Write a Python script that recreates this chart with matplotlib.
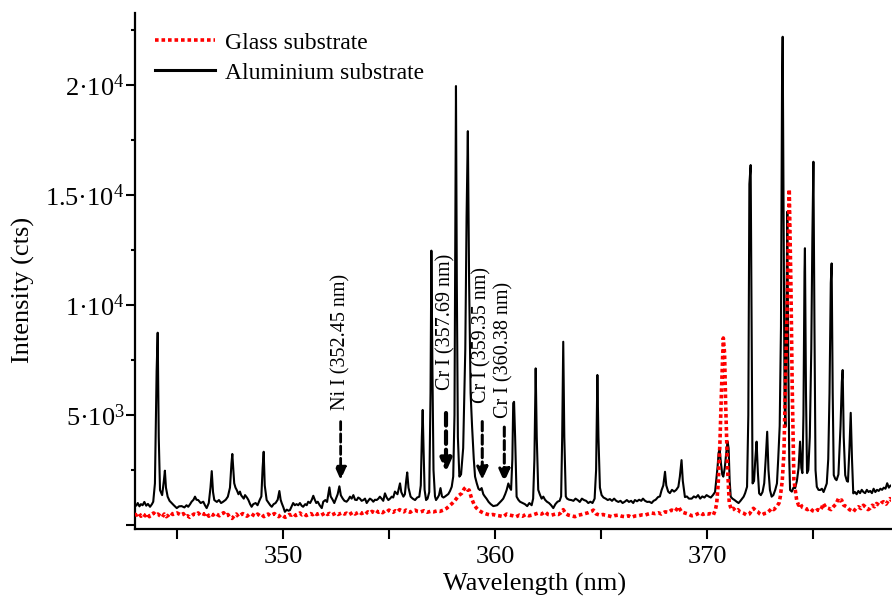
#!/usr/bin/env python3

import numpy as np
import matplotlib
matplotlib.use("Agg")
import matplotlib.pyplot as plt
from matplotlib.ticker import MultipleLocator, FuncFormatter

# Aluminium substrate spectrum (wavelength nm, intensity cts)
alu_wl = [
    343.00, 343.08, 343.15, 343.23, 343.30, 343.38, 343.46, 343.55, 343.63, 343.73,
    343.82, 343.88, 343.96, 344.04, 344.09, 344.14, 344.20, 344.30, 344.38, 344.43,
    344.48, 344.56, 344.65, 344.75, 344.85, 344.99, 345.10, 345.22, 345.35, 345.45,
    345.53, 345.62, 345.69, 345.78, 345.85, 345.92, 346.00, 346.12, 346.24, 346.32,
    346.40, 346.50, 346.58, 346.64, 346.70, 346.76, 346.88, 346.98, 347.08, 347.18,
    347.30, 347.40, 347.50, 347.57, 347.61, 347.66, 347.70, 347.76, 347.82, 347.90,
    347.97, 348.03, 348.08, 348.15, 348.21, 348.30, 348.37, 348.45, 348.52, 348.60,
    348.71, 348.80, 348.90, 348.98, 349.04, 349.09, 349.14, 349.23, 349.33, 349.40,
    349.47, 349.56, 349.65, 349.75, 349.83, 349.89, 349.94, 350.02, 350.09, 350.18,
    350.26, 350.33, 350.41, 350.48, 350.56, 350.64, 350.72, 350.80, 350.88, 350.95,
    351.05, 351.12, 351.19, 351.28, 351.36, 351.43, 351.50, 351.57, 351.64, 351.73,
    351.83, 351.90, 352.00, 352.08, 352.14, 352.19, 352.25, 352.35, 352.42, 352.50,
    352.58, 352.66, 352.73, 352.82, 352.90, 353.00, 353.08, 353.16, 353.24, 353.32,
    353.40, 353.48, 353.55, 353.63, 353.71, 353.79, 353.87, 353.95, 354.02, 354.10,
    354.18, 354.26, 354.34, 354.42, 354.50, 354.57, 354.65, 354.73, 354.81, 354.89,
    354.97, 355.05, 355.13, 355.20, 355.28, 355.40, 355.47, 355.52, 355.58, 355.68,
    355.75, 355.81, 355.86, 355.92, 356.02, 356.12, 356.23, 356.33, 356.43, 356.50,
    356.55, 356.59, 356.63, 356.68, 356.75, 356.82, 356.90, 356.96, 357.00, 357.05,
    357.10, 357.17, 357.22, 357.30, 357.36, 357.43, 357.50, 357.57, 357.65, 357.72,
    357.80, 357.88, 357.96, 358.03, 358.09, 358.13, 358.16, 358.20, 358.25, 358.32,
    358.40, 358.50, 358.60, 358.66, 358.72, 358.78, 358.85, 358.92, 359.00, 359.06,
    359.14, 359.22, 359.29, 359.37, 359.45, 359.52, 359.60, 359.70, 359.80, 359.92,
    360.00, 360.10, 360.20, 360.30, 360.39, 360.48, 360.55, 360.63, 360.70, 360.76,
    360.82, 360.86, 360.90, 360.95, 361.02, 361.10, 361.18, 361.30, 361.41, 361.52,
    361.62, 361.73, 361.80, 361.86, 361.92, 361.97, 362.04, 362.12, 362.20, 362.28,
    362.36, 362.45, 362.55, 362.65, 362.75, 362.85, 362.95, 363.05, 363.12, 363.17,
    363.22, 363.27, 363.34, 363.40, 363.50, 363.60, 363.70, 363.80, 363.90, 364.00,
    364.10, 364.20, 364.30, 364.40, 364.50, 364.60, 364.70, 364.77, 364.83, 364.88,
    364.95, 365.03, 365.12, 365.22, 365.32, 365.42, 365.52, 365.62, 365.72, 365.82,
    365.92, 366.02, 366.12, 366.22, 366.32, 366.42, 366.52, 366.60, 366.70, 366.80,
    366.90, 366.98, 367.08, 367.18, 367.28, 367.39, 367.48, 367.58, 367.69, 367.78,
    367.86, 367.94, 368.02, 368.08, 368.17, 368.25, 368.35, 368.45, 368.55, 368.65,
    368.72, 368.80, 368.86, 368.96, 369.05, 369.15, 369.28, 369.38, 369.48, 369.58,
    369.68, 369.78, 369.88, 369.98, 370.08, 370.18, 370.28, 370.38, 370.45, 370.50,
    370.55, 370.60, 370.66, 370.72, 370.77, 370.84, 370.90, 370.97, 371.02, 371.07,
    371.12, 371.20, 371.30, 371.40, 371.49, 371.58, 371.66, 371.73, 371.80, 371.89,
    371.95, 372.00, 372.06, 372.10, 372.15, 372.22, 372.28, 372.34, 372.40, 372.46,
    372.54, 372.62, 372.70, 372.77, 372.84, 372.90, 372.97, 373.05, 373.13, 373.22,
    373.30, 373.36, 373.43, 373.49, 373.54, 373.57, 373.61, 373.66, 373.70, 373.74,
    373.79, 373.83, 373.88, 373.92, 374.00, 374.08, 374.16, 374.24, 374.32, 374.39,
    374.45, 374.50, 374.55, 374.60, 374.62, 374.67, 374.72, 374.78, 374.85, 374.92,
    374.97, 375.02, 375.07, 375.12, 375.18, 375.26, 375.34, 375.42, 375.50, 375.58,
    375.65, 375.72, 375.78, 375.84, 375.88, 375.93, 375.98, 376.05, 376.11, 376.20,
    376.30, 376.36, 376.40, 376.45, 376.52, 376.60, 376.65, 376.72, 376.78, 376.84,
    376.90, 376.98, 377.06, 377.14, 377.22, 377.30, 377.38, 377.46, 377.54, 377.62,
    377.70, 377.78, 377.86, 377.94, 378.02, 378.10, 378.18, 378.26, 378.34, 378.42,
    378.50, 378.58, 378.66, 378.74,
]
alu_int = [
    950, 880, 1000, 850, 950, 900, 1050, 880, 960, 830,
    950, 1060, 1890, 7000, 8740, 4000, 1590, 1360, 2000, 2470,
    1700, 1290, 1100, 1000, 900, 770, 850, 860, 800, 900,
    830, 950, 1060, 1150, 1290, 1150, 1136, 1000, 1060, 900,
    770, 1000, 1700, 2450, 1500, 1136, 1050, 1136, 1000, 1060,
    1150, 1290, 1700, 2800, 3230, 2500, 1900, 1700, 1590, 1400,
    1520, 1350, 1290, 1200, 1360, 1250, 1136, 950, 830, 950,
    1000, 900, 1136, 1300, 2600, 3330, 1800, 1136, 1000, 900,
    830, 950, 1000, 1150, 1545, 1150, 1000, 800, 600, 700,
    650, 680, 850, 1000, 900, 950, 900, 1000, 880, 830,
    950, 900, 1060, 1000, 1150, 1330, 1150, 1000, 1060, 900,
    770, 1060, 1136, 1050, 1400, 1710, 1300, 1136, 1000, 1200,
    1400, 1760, 1350, 1200, 1100, 1060, 1150, 1290, 1200, 1360,
    1150, 1136, 1250, 1200, 1100, 1136, 1200, 1000, 1100, 1200,
    1150, 1060, 1150, 1136, 1200, 1290, 1200, 1100, 1440, 1250,
    1136, 1200, 1290, 1250, 1520, 1400, 1700, 1895, 1500, 1290,
    1400, 2000, 2390, 1700, 1290, 1200, 1136, 1250, 1290, 1800,
    4000, 5230, 3500, 1600, 1136, 1200, 1500, 6000, 12470, 7000,
    2500, 1300, 1136, 1250, 1360, 1680, 1300, 1250, 1300, 1350,
    1410, 1550, 1740, 2200, 5000, 13000, 19950, 11000, 4000, 2200,
    2300, 3500, 8000, 14000, 17900, 11000, 6000, 4470, 3000, 2200,
    1900, 1650, 1590, 1680, 1400, 1300, 1200, 1050, 950, 860,
    880, 900, 1000, 1100, 1200, 1400, 1590, 1890, 1700, 1600,
    3000, 5540, 5600, 4000, 1290, 1150, 1060, 1000, 950, 860,
    1000, 900, 1200, 3000, 7120, 4000, 1600, 1380, 1200, 1290,
    1150, 1060, 1000, 900, 770, 950, 1060, 1100, 1300, 4000,
    8330, 4000, 1300, 1200, 1150, 1136, 1100, 1200, 1136, 1050,
    1200, 1136, 1100, 1000, 1060, 1000, 1200, 2500, 6820, 4000,
    1700, 1360, 1250, 1200, 1136, 1180, 1100, 1200, 1100, 1050,
    1100, 1000, 1060, 1136, 1050, 1100, 1000, 1136, 1080, 1150,
    1100, 1200, 1100, 1050, 1060, 1000, 1100, 1150, 1270, 1300,
    1590, 1800, 2420, 1800, 1520, 1450, 1600, 1520, 1600, 1740,
    2200, 2950, 2000, 1270, 1300, 1200, 1200, 1300, 1250, 1360,
    1200, 1300, 1250, 1360, 1300, 1250, 1360, 1500, 2200, 2650,
    3300, 3410, 2800, 2300, 2200, 2600, 3200, 3790, 3500, 2000,
    1290, 1200, 1136, 1060, 1000, 1100, 1200, 1290, 1450, 1740,
    5000, 15500, 16360, 10000, 1890, 2000, 3000, 3790, 2400, 1440,
    1360, 1500, 1900, 3000, 4240, 2500, 1590, 1290, 1360, 1600,
    1890, 3000, 4500, 9000, 20000, 22190, 15000, 5500, 4470, 9000,
    14240, 8000, 3000, 1590, 1520, 1700, 1680, 2000, 2590, 3790,
    2600, 2360, 5000, 11500, 12580, 6000, 2360, 2500, 4000, 8000,
    13000, 16510, 9000, 2500, 1740, 1600, 1590, 1650, 1500, 1700,
    1890, 3000, 6000, 11000, 11890, 6000, 2270, 2100, 2040, 2300,
    4500, 6500, 7045, 4000, 2270, 2000, 1970, 3500, 5100, 3000,
    1440, 1500, 1400, 1550, 1450, 1600, 1500, 1450, 1600, 1500,
    1550, 1450, 1650, 1500, 1600, 1550, 1650, 1600, 1700, 1650,
    1900, 1700, 1800, 1750,
]

# Glass substrate spectrum
glass_wl = [
    343.00, 343.10, 343.20, 343.30, 343.40, 343.50, 343.60, 343.70, 343.80, 343.90,
    344.00, 344.10, 344.20, 344.30, 344.40, 344.50, 344.60, 344.70, 344.80, 344.90,
    345.00, 345.10, 345.20, 345.30, 345.40, 345.50, 345.60, 345.70, 345.80, 345.90,
    346.00, 346.10, 346.20, 346.30, 346.40, 346.50, 346.60, 346.70, 346.80, 346.90,
    347.00, 347.10, 347.20, 347.30, 347.40, 347.50, 347.60, 347.70, 347.80, 347.90,
    348.00, 348.10, 348.20, 348.30, 348.40, 348.50, 348.60, 348.70, 348.80, 348.90,
    349.00, 349.10, 349.20, 349.30, 349.40, 349.50, 349.60, 349.70, 349.80, 349.90,
    350.00, 350.10, 350.20, 350.30, 350.40, 350.50, 350.60, 350.70, 350.80, 350.90,
    351.00, 351.10, 351.20, 351.30, 351.40, 351.50, 351.60, 351.70, 351.80, 351.90,
    352.00, 352.10, 352.20, 352.30, 352.40, 352.50, 352.60, 352.70, 352.80, 352.90,
    353.00, 353.10, 353.20, 353.30, 353.40, 353.50, 353.60, 353.70, 353.80, 353.90,
    354.00, 354.10, 354.20, 354.30, 354.40, 354.50, 354.60, 354.70, 354.80, 354.90,
    355.00, 355.10, 355.20, 355.30, 355.40, 355.50, 355.60, 355.70, 355.80, 355.90,
    356.00, 356.10, 356.23, 356.35, 356.50, 356.65, 356.80, 356.95, 357.10, 357.25,
    357.40, 357.57, 357.72, 357.88, 358.00, 358.10, 358.20, 358.30, 358.43, 358.55,
    358.62, 358.70, 358.78, 358.84, 358.90, 359.03, 359.12, 359.22, 359.35, 359.46,
    359.60, 359.77, 359.90, 360.05, 360.20, 360.40, 360.55, 360.70, 360.85, 361.00,
    361.15, 361.30, 361.45, 361.60, 361.75, 361.90, 362.04, 362.20, 362.36, 362.50,
    362.67, 362.85, 362.99, 363.10, 363.22, 363.34, 363.46, 363.60, 363.77, 363.95,
    364.09, 364.25, 364.40, 364.55, 364.64, 364.78, 364.95, 365.10, 365.19, 365.35,
    365.50, 365.65, 365.82, 365.98, 366.13, 366.30, 366.44, 366.60, 366.76, 366.92,
    367.07, 367.22, 367.39, 367.55, 367.70, 367.85, 368.02, 368.18, 368.33, 368.50,
    368.65, 368.80, 368.96, 369.12, 369.28, 369.44, 369.58, 369.67, 369.80, 369.91,
    370.05, 370.14, 370.30, 370.40, 370.46, 370.53, 370.61, 370.69, 370.77, 370.83,
    370.88, 370.96, 371.05, 371.15, 371.24, 371.35, 371.46, 371.56, 371.70, 371.87,
    372.00, 372.10, 372.19, 372.30, 372.40, 372.50, 372.58, 372.70, 372.82, 372.95,
    373.05, 373.15, 373.28, 373.40, 373.46, 373.55, 373.63, 373.73, 373.80, 373.88,
    373.96, 374.02, 374.10, 374.23, 374.32, 374.39, 374.50, 374.62, 374.74, 374.86,
    374.98, 375.10, 375.22, 375.33, 375.42, 375.49, 375.60, 375.73, 375.85, 375.96,
    376.08, 376.20, 376.28, 376.35, 376.45, 376.59, 376.72, 376.82, 376.90, 377.02,
    377.14, 377.26, 377.38, 377.50, 377.60, 377.69, 377.80, 377.90, 378.00, 378.12,
    378.22, 378.32, 378.45, 378.55, 378.63, 378.72,
]
glass_int = [
    500, 450, 550, 400, 500, 420, 520, 380, 480, 550,
    450, 500, 420, 350, 500, 380, 450, 560, 480, 520,
    550, 500, 450, 520, 380, 420, 350, 430, 500, 470,
    550, 450, 520, 480, 560, 400, 500, 450, 540, 480,
    420, 500, 560, 430, 480, 350, 300, 420, 500, 380,
    450, 520, 470, 400, 480, 520, 450, 400, 500, 430,
    480, 380, 450, 500, 420, 470, 520, 440, 380, 470,
    420, 350, 400, 480, 450, 520, 430, 480, 550, 460,
    500, 430, 480, 520, 470, 550, 480, 520, 450, 500,
    560, 480, 530, 460, 500, 550, 480, 520, 560, 500,
    540, 470, 520, 580, 500, 550, 600, 520, 560, 500,
    600, 550, 620, 570, 650, 580, 620, 560, 640, 600,
    680, 620, 580, 650, 600, 700, 640, 600, 680, 620,
    580, 650, 680, 620, 600, 650, 580, 620, 600, 640,
    620, 680, 760, 900, 1000, 1100, 1227, 1350, 1440, 1650,
    1710, 1600, 1590, 1400, 1200, 900, 780, 680, 600, 545,
    500, 455, 480, 440, 420, 380, 500, 450, 420, 380,
    450, 400, 480, 420, 450, 500, 545, 500, 600, 480,
    450, 500, 480, 550, 700, 520, 450, 420, 380, 450,
    480, 520, 560, 620, 680, 500, 450, 480, 450, 420,
    380, 430, 450, 400, 380, 420, 350, 410, 420, 460,
    450, 500, 545, 520, 560, 500, 600, 580, 680, 620,
    830, 600, 545, 500, 420, 455, 520, 560, 480, 520,
    500, 520, 455, 700, 1000, 1900, 3730, 6290, 8500, 7800,
    5540, 2810, 1000, 700, 760, 650, 700, 600, 550, 455,
    500, 650, 760, 650, 600, 500, 455, 520, 545, 650,
    760, 700, 830, 1000, 1300, 2000, 3270, 7800, 10830, 15260,
    10830, 6290, 2045, 1136, 900, 980, 800, 760, 700, 760,
    650, 600, 700, 650, 800, 980, 800, 760, 700, 830,
    950, 1200, 1100, 1136, 900, 830, 700, 650, 600, 750,
    830, 750, 900, 800, 700, 760, 900, 830, 980, 900,
    1000, 1060, 950, 1100, 1200, 1100,
]

# Line identifications: (label, arrow x in nm, arrow top, arrow tip, text bottom, line width)
line_labels = ["Ni I (352.45 nm)", "Cr I (357.69 nm)", "Cr I (359.35 nm)", "Cr I (360.38 nm)"]
line_x = [352.72, 357.69, 359.40, 360.44]
arrow_top = [4700, 5090, 4700, 4450]
arrow_tip = [2045, 2410, 2045, 1955]
text_bottom = [5230, 6140, 5545, 4860]
arrow_lw = [2.0, 3.0, 2.2, 2.2]


def sci_label(v, pos):
    """Format tick values as e.g. 1.5·10^4 like the original figure."""
    if v <= 0:
        return ""
    exp = int(np.floor(np.log10(v)))
    mant = v / 10 ** exp
    return f"{mant:g}\u00b710$^{{{exp}}}$"


def main():
    plt.rcParams["font.family"] = ["Liberation Serif", "DejaVu Serif"]
    plt.rcParams["mathtext.fontset"] = "custom"
    plt.rcParams["mathtext.rm"] = "Liberation Serif"
    plt.rcParams["mathtext.it"] = "Liberation Serif:italic"
    plt.rcParams["mathtext.bf"] = "Liberation Serif:bold"

    fig = plt.figure(figsize=(8.92, 5.99), dpi=100)
    ax = fig.add_axes([135 / 892, 70 / 599, 756 / 892, 516 / 599])

    ax.plot(alu_wl, alu_int, color="black", lw=1.5, label="Aluminium substrate", zorder=2)
    ax.plot(glass_wl, glass_int, color="red", lw=2.6, linestyle=(0, (1, 0.8)),
            label="Glass substrate", zorder=3)

    # Dashed arrows + rotated labels for the identified lines
    for lab, x, top, tip, tb, lw in zip(line_labels, line_x, arrow_top, arrow_tip,
                                        text_bottom, arrow_lw):
        ax.annotate("", xy=(x, tip), xytext=(x, top),
                    arrowprops=dict(arrowstyle="-|>,head_length=0.75,head_width=0.33",
                                    linestyle=(0, (3, 1.4)), lw=lw, color="black",
                                    shrinkA=0, shrinkB=0))
        ax.text(x, tb, lab, rotation=90, ha="center", va="bottom", fontsize=14.5)

    ax.set_xlim(343.02, 378.68)
    ax.set_ylim(-180, 23270)

    ax.xaxis.set_major_locator(MultipleLocator(10))
    ax.xaxis.set_minor_locator(MultipleLocator(5))
    ax.yaxis.set_major_locator(MultipleLocator(5000))
    ax.yaxis.set_minor_locator(MultipleLocator(2500))
    ax.yaxis.set_major_formatter(FuncFormatter(sci_label))

    for side in ["top", "right"]:
        ax.spines[side].set_visible(False)
    for side in ["left", "bottom"]:
        ax.spines[side].set_linewidth(1.6)

    ax.tick_params(axis="x", which="both", length=7.5, width=1.5, labelsize=19, pad=5)
    ax.tick_params(axis="y", which="major", length=6.5, width=1.5, labelsize=19, pad=1)
    ax.tick_params(axis="y", which="minor", length=3, width=1.5)

    ax.set_xlabel("Wavelength (nm)", fontsize=19)
    ax.set_ylabel("Intensity (cts)", fontsize=19)
    ax.xaxis.set_label_coords(0.529, -0.085)
    ax.yaxis.set_label_coords(-0.132, 0.463)

    handles, labels = ax.get_legend_handles_labels()
    leg = ax.legend(handles[::-1], labels[::-1], loc="upper left",
                    bbox_to_anchor=(0.026, 0.963), frameon=False, fontsize=17,
                    handlelength=2.55, handletextpad=0.42, labelspacing=0.36,
                    borderpad=0, borderaxespad=0)
    # legend sample lines look a bit heavier than the data lines
    leg.get_lines()[1].set_linewidth(2.2)

    fig.savefig("out.png", dpi=100)
    plt.close(fig)


if __name__ == "__main__":
    main()
